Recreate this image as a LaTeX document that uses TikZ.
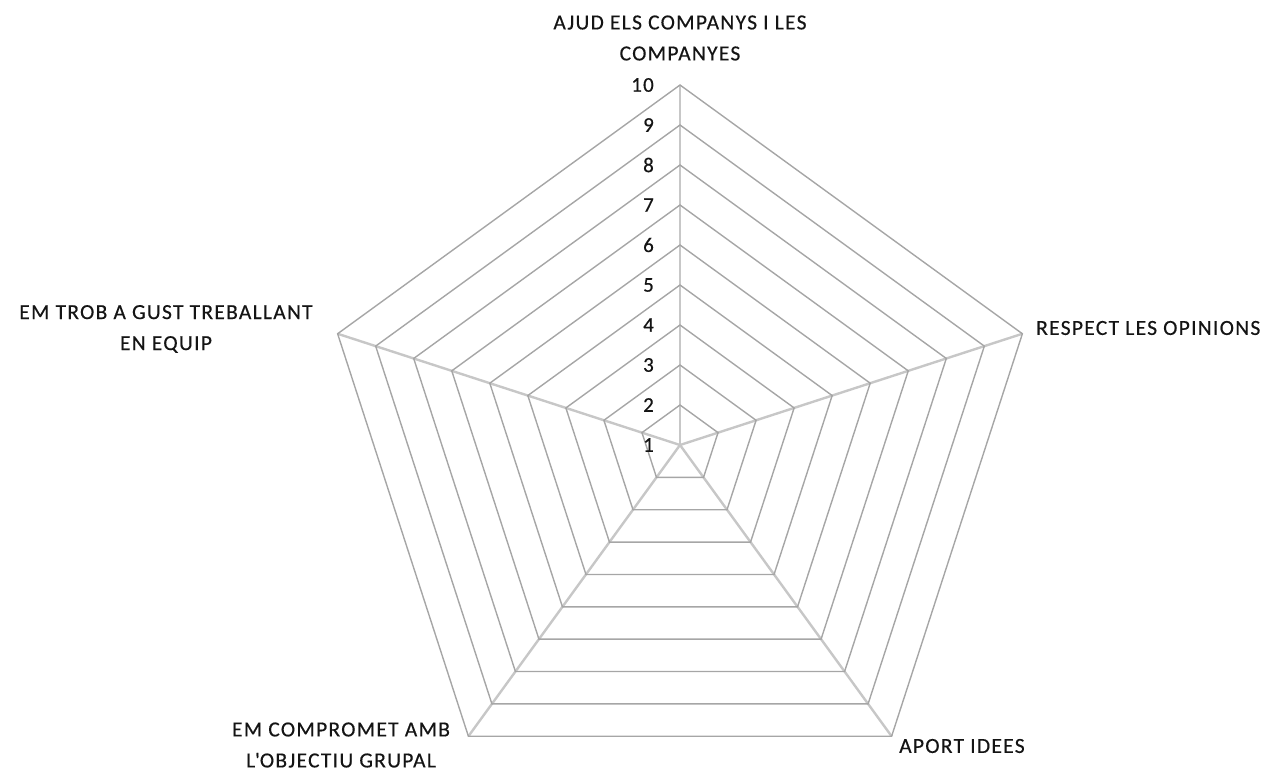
\documentclass[tikz,border=0pt]{standalone}
\usepackage{fontspec}
\setmainfont{Carlito}[LetterSpace=6,FakeBold=0.4]
\newfontfamily\aposfont{Carlito}[Ligatures=ResetAll,LetterSpace=6,FakeBold=0.4]
\newcommand{\straightapos}{{\aposfont\char"27}}
\begin{document}
\begin{tikzpicture}[x=1pt,y=-1pt,
  ring/.style={draw=black!35,line width=1.4pt},
  spoke/.style={draw=black!22,line width=2.4pt},
  lab/.style={text=black!92,font=\fontsize{21.5}{31}\selectfont,inner sep=0pt,align=center},
  tick/.style={text=black!92,font=\fontsize{21}{24}\selectfont,inner sep=0pt,anchor=east}]
\useasboundingbox (0,0) rectangle (1286,772);
\coordinate (c) at (680,445);
% vertices of each ring
\foreach \k in {1,...,9}{
  \foreach \a [count=\i] in {90,18,-54,-126,162}{
    \coordinate (p\k-\i) at ({680+40*\k*cos(\a)},{445-40*\k*sin(\a)});
  }
}
% spokes
\foreach \i in {1,...,5}{\draw[spoke] (c) -- (p9-\i);}
% rings
\foreach \k in {1,...,9}{
  \draw[ring,line join=miter] (p\k-1) -- (p\k-2) -- (p\k-3) -- (p\k-4) -- (p\k-5) -- cycle;
}
% ticks
\foreach \k in {1,...,10}{
  \node[tick] (t\k) at (654,{445-40*(\k-1)}) {\k};
}
% labels
\node[lab] (l1) at (680,38) {AJUD ELS COMPANYS I LES\\COMPANYES};
\node[lab,anchor=west] (l2) at (1036,328) {RESPECT LES OPINIONS};
\node[lab,anchor=west] (l3) at (899,746) {APORT IDEES};
\node[lab] (l4) at (341,745) {EM COMPROMET AMB\\L\straightapos OBJECTIU GRUPAL};
\node[lab] (l5) at (166,329) {EM TROB A GUST TREBALLANT\\EN EQUIP};
\end{tikzpicture}
\end{document}
